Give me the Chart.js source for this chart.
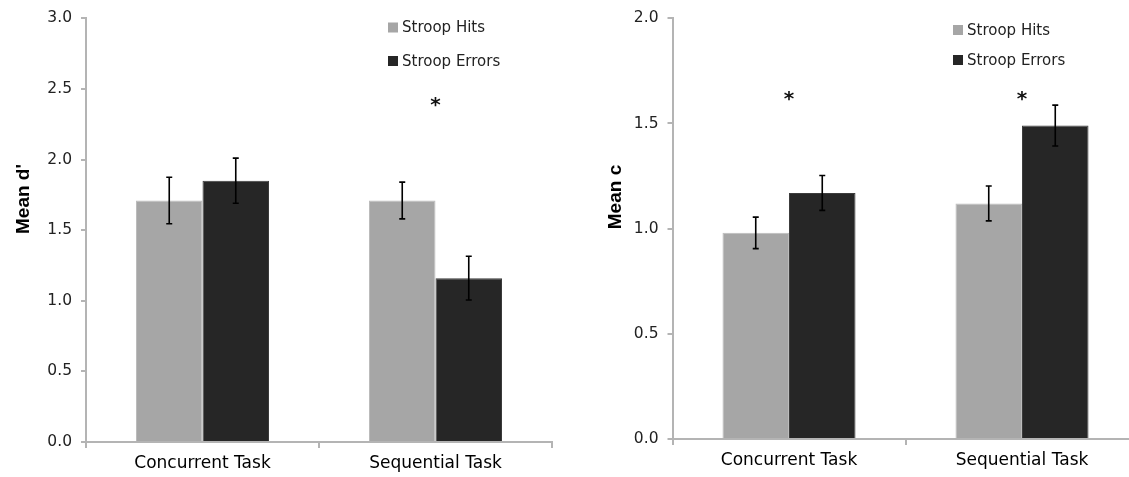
<!DOCTYPE html>
<html>
<head>
<meta charset="utf-8">
<script src="https://cdn.jsdelivr.net/npm/chart.js@4/dist/chart.umd.min.js"></script>
<style>
  html, body { margin: 0; padding: 0; background: #fff; overflow: hidden; width: 1129px; height: 477px; }
  .panel { position: absolute; top: 0; }
  #left-panel { left: 0; }
  #right-panel { left: 565px; }
</style>
</head>
<body>
<div class="panel" id="left-panel"><canvas id="dprime-chart" width="565" height="477"></canvas></div>
<div class="panel" id="right-panel"><canvas id="c-chart" width="590" height="477"></canvas></div>
<script>
/* two grouped bar charts with error bars: d' and c */

const categories = ['Concurrent Task', 'Sequential Task'];
const seriesNames = ['Stroop Hits', 'Stroop Errors'];

// Mean d'
const dPrimeHits = [1.71, 1.71];
const dPrimeErrors = [1.85, 1.16];
const dPrimeHitsSE = [0.165, 0.13];
const dPrimeErrorsSE = [0.16, 0.155];
const dPrimeStars = [{ cat: 1, y: 2.39 }];

// Mean c
const cHits = [0.98, 1.12];
const cErrors = [1.17, 1.49];
const cHitsSE = [0.075, 0.083];
const cErrorsSE = [0.083, 0.097];
const cStars = [{ cat: 0, y: 1.62 }, { cat: 1, y: 1.62 }];

const HITS_COLOR = '#a6a6a6';
const ERRORS_COLOR = '#262626';
const AXIS_COLOR = '#b4b4b4';
const TEXT_COLOR = '#222222';
const FONT = "'DejaVu Sans', sans-serif";

// error bars, stars, legend and y title drawn on top of the bars
const overlayPlugin = {
  id: 'overlay',
  afterDatasetsDraw(chart, args, opts) {
    const ctx = chart.ctx;
    const y = chart.scales.y;
    const x = chart.scales.x;

    ctx.save();
    ctx.strokeStyle = '#000';
    ctx.lineWidth = 1.6;
    chart.data.datasets.forEach((ds, i) => {
      const meta = chart.getDatasetMeta(i);
      meta.data.forEach((bar, j) => {
        const top = y.getPixelForValue(ds.data[j] + ds.errors[j]);
        const bot = y.getPixelForValue(ds.data[j] - ds.errors[j]);
        ctx.beginPath();
        ctx.moveTo(bar.x, top); ctx.lineTo(bar.x, bot);
        ctx.moveTo(bar.x - 3, top); ctx.lineTo(bar.x + 3, top);
        ctx.moveTo(bar.x - 3, bot); ctx.lineTo(bar.x + 3, bot);
        ctx.stroke();
      });
    });

    // significance stars
    ctx.fillStyle = '#111';
    ctx.font = 'bold 20px ' + FONT;
    ctx.textAlign = 'center';
    ctx.textBaseline = 'alphabetic';
    opts.stars.forEach(s => {
      ctx.fillText('*', x.getPixelForValue(s.cat), y.getPixelForValue(s.y) + 7);
    });

    // legend
    ctx.font = '15px ' + FONT;
    ctx.textAlign = 'left';
    ctx.textBaseline = 'middle';
    chart.data.datasets.forEach((ds, i) => {
      const yc = opts.legendY[i];
      ctx.fillStyle = ds.backgroundColor;
      ctx.fillRect(opts.legendX, yc - 5, 10, 10);
      ctx.fillStyle = TEXT_COLOR;
      ctx.fillText(ds.label, opts.legendX + 14, yc + 1);
    });

    // rotated y title
    ctx.translate(opts.titleX, opts.titleY);
    ctx.rotate(-Math.PI / 2);
    ctx.font = "bold 19px 'Liberation Sans', Arial, sans-serif";
    ctx.textAlign = 'center';
    ctx.fillStyle = '#000';
    ctx.fillText(opts.title, 0, 0);
    ctx.restore();
  }
};

function makeChart(id, hits, errors, hitsSE, errorsSE, yMax, overlay, layout) {
  const canvas = document.getElementById(id);
  return new Chart(canvas.getContext('2d'), {
    type: 'bar',
    data: {
      labels: categories,
      datasets: [
        { label: seriesNames[0], data: hits, errors: hitsSE, backgroundColor: HITS_COLOR,
          borderColor: '#bcbcbc', borderWidth: 1 },
        { label: seriesNames[1], data: errors, errors: errorsSE, backgroundColor: ERRORS_COLOR,
          borderColor: '#3c3c3c', borderWidth: 1 }
      ]
    },
    plugins: [overlayPlugin],
    options: {
      responsive: false,
      animation: false,
      layout: { padding: { top: layout.top, right: layout.right, left: 0, bottom: 0 } },
      datasets: { bar: { categoryPercentage: 0.571, barPercentage: 1.0 } },
      plugins: {
        legend: { display: false },
        tooltip: { enabled: false },
        overlay: overlay
      },
      scales: {
        x: {
          afterFit: s => { s.height = layout.xHeight; },
          border: { color: AXIS_COLOR, width: 2 },
          grid: { offset: true, drawOnChartArea: false, color: AXIS_COLOR, lineWidth: 2, tickLength: 6 },
          ticks: { color: '#000', font: { family: FONT, size: 17 }, padding: 5, maxRotation: 0 }
        },
        y: {
          min: 0,
          max: yMax,
          afterFit: s => { s.width = layout.yWidth; },
          border: { color: AXIS_COLOR, width: 2 },
          grid: { drawOnChartArea: false, color: AXIS_COLOR, lineWidth: 2, tickLength: 5 },
          ticks: {
            stepSize: 0.5,
            color: TEXT_COLOR,
            font: { family: FONT, size: 15.5 },
            padding: 9,
            callback: v => v.toFixed(1)
          }
        }
      }
    }
  });
}

makeChart('dprime-chart', dPrimeHits, dPrimeErrors, dPrimeHitsSE, dPrimeErrorsSE, 3,
  { stars: dPrimeStars, legendX: 388, legendY: [27.5, 61], title: "Mean d'", titleX: 24, titleY: 199 },
  { top: 17, right: 13, xHeight: 35, yWidth: 86 });

makeChart('c-chart', cHits, cErrors, cHitsSE, cErrorsSE, 2,
  { stars: cStars, legendX: 388, legendY: [30, 60], title: 'Mean c', titleX: 51, titleY: 197 },
  { top: 15, right: 16.5, xHeight: 38, yWidth: 107.5 });
</script>
</body>
</html>
